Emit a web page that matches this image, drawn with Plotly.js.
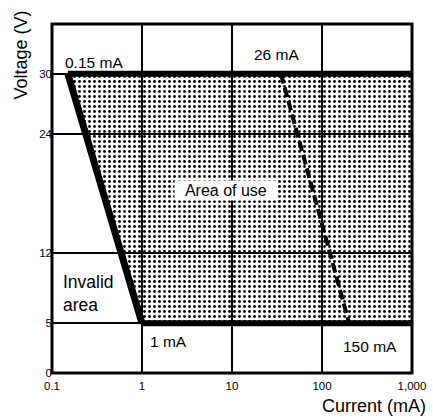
<!DOCTYPE html>
<html>
<head>
<meta charset="utf-8">
<script src="https://cdn.plot.ly/plotly-3.0.1.min.js"></script>
<style>html,body{margin:0;padding:0;background:#fff;}#chart{width:433px;height:418px;}</style>
</head>
<body>
<div id="chart"></div>
<script>
// Area of use boundary (current mA, voltage V)
var areaCurrent = [0.15, 1000, 1000, 1, 0.15];
var areaVoltage = [30, 30, 5, 5, 30];
// Thick boundary lines
var topCurrent = [0.15, 1000];
var topVoltage = [30, 30];
var diagCurrent = [0.15, 1];
var diagVoltage = [30, 5];
var bottomCurrent = [1, 1000];
var bottomVoltage = [5, 5];
// Dashed line
var dashCurrent = [35, 200];
var dashVoltage = [30, 5];
// Tick labels
var xTickVals = [0.1, 1, 10, 100, 1000];
var xTickText = ['0.1', '1', '10', '100', '1,000'];
var yTickVals = [0, 5, 12, 24, 30];
var yTickText = ['0', '5', '12', '24', '30'];
// Labels
var labelText = ['0.15 mA', '26 mA', '1 mA', '150 mA', 'Invalid<br>area'];
var labelCurrent = [0.132, 31.6, 1.166, 717, 0.126];
var labelVoltage = [31.14, 31.9, 3.2, 2.7, 8.0];
var labelAnchor = ['left', 'center', 'left', 'right', 'left'];
var labelSize = [15.5, 15.5, 15.5, 15.5, 17.5];

var FONT = 'Liberation Sans, Arial, Helvetica, sans-serif';

var traces = [
  {x: areaCurrent, y: areaVoltage, type: 'scatter', mode: 'lines', fill: 'toself',
   fillcolor: 'rgba(0,0,0,0)', line: {width: 0, color: 'rgba(0,0,0,0)'},
   fillpattern: {shape: '.', fgcolor: '#000', bgcolor: 'rgba(0,0,0,0)', size: 5, solidity: 0.25},
   hoverinfo: 'skip', showlegend: false},
  {x: dashCurrent, y: dashVoltage, type: 'scatter', mode: 'lines',
   line: {color: '#000', width: 4, dash: '10px,4px'}, showlegend: false, hoverinfo: 'skip'},
  {x: topCurrent, y: topVoltage, type: 'scatter', mode: 'lines',
   line: {color: '#000', width: 6}, showlegend: false, hoverinfo: 'skip'},
  {x: bottomCurrent, y: bottomVoltage, type: 'scatter', mode: 'lines',
   line: {color: '#000', width: 6}, showlegend: false, hoverinfo: 'skip'},
  {x: diagCurrent, y: diagVoltage, type: 'scatter', mode: 'lines',
   line: {color: '#000', width: 7}, showlegend: false, hoverinfo: 'skip'}
];

var annotations = labelText.map(function (t, i) {
  return {x: Math.log10(labelCurrent[i]), y: labelVoltage[i], xref: 'x', yref: 'y',
    text: t, showarrow: false, xanchor: labelAnchor[i], yanchor: 'middle', align: 'left',
    font: {family: FONT, size: labelSize[i], color: '#000'}};
});
annotations.push({x: Math.log10(8.58), y: 18.3, xref: 'x', yref: 'y',
  text: '&nbsp;&nbsp;Area of use&nbsp;&nbsp;', showarrow: false, bgcolor: '#fff', borderpad: 1,
  font: {family: FONT, size: 16, color: '#000'}});
annotations.push({x: -0.085, y: 0.911, xref: 'paper', yref: 'paper', text: 'Voltage (V)',
  textangle: -90, showarrow: false, xanchor: 'center', yanchor: 'middle',
  font: {family: FONT, size: 18, color: '#000'}});
annotations.push({x: 1.044, y: -0.095, xref: 'paper', yref: 'paper', text: 'Current (mA)',
  showarrow: false, xanchor: 'right', yanchor: 'middle',
  font: {family: FONT, size: 18, color: '#000'}});

var layout = {
  width: 433, height: 418,
  margin: {l: 52, r: 21, t: 24, b: 45, pad: 0},
  paper_bgcolor: '#fff', plot_bgcolor: '#fff',
  showlegend: false,
  xaxis: {type: 'log', range: [-1, 3], tickvals: xTickVals, ticktext: xTickText,
    showgrid: true, gridcolor: '#000', gridwidth: 2, zeroline: false,
    showline: false, ticks: '', ticklabelstandoff: 4,
    tickfont: {family: FONT, size: 11.5, color: '#000'}, fixedrange: true},
  yaxis: {range: [0, 35], tickvals: yTickVals, ticktext: yTickText,
    showgrid: true, gridcolor: '#000', gridwidth: 2, zeroline: false,
    showline: false, ticks: '', ticklabelstandoff: -1,
    tickfont: {family: FONT, size: 11.5, color: '#000'}, fixedrange: true},
  shapes: [{type: 'rect', xref: 'paper', yref: 'paper', x0: 0, x1: 1, y0: 0, y1: 1,
    line: {color: '#000', width: 3}, layer: 'above'}],
  annotations: annotations
};

Plotly.newPlot('chart', traces, layout, {displayModeBar: false, staticPlot: true});
</script>
</body>
</html>
